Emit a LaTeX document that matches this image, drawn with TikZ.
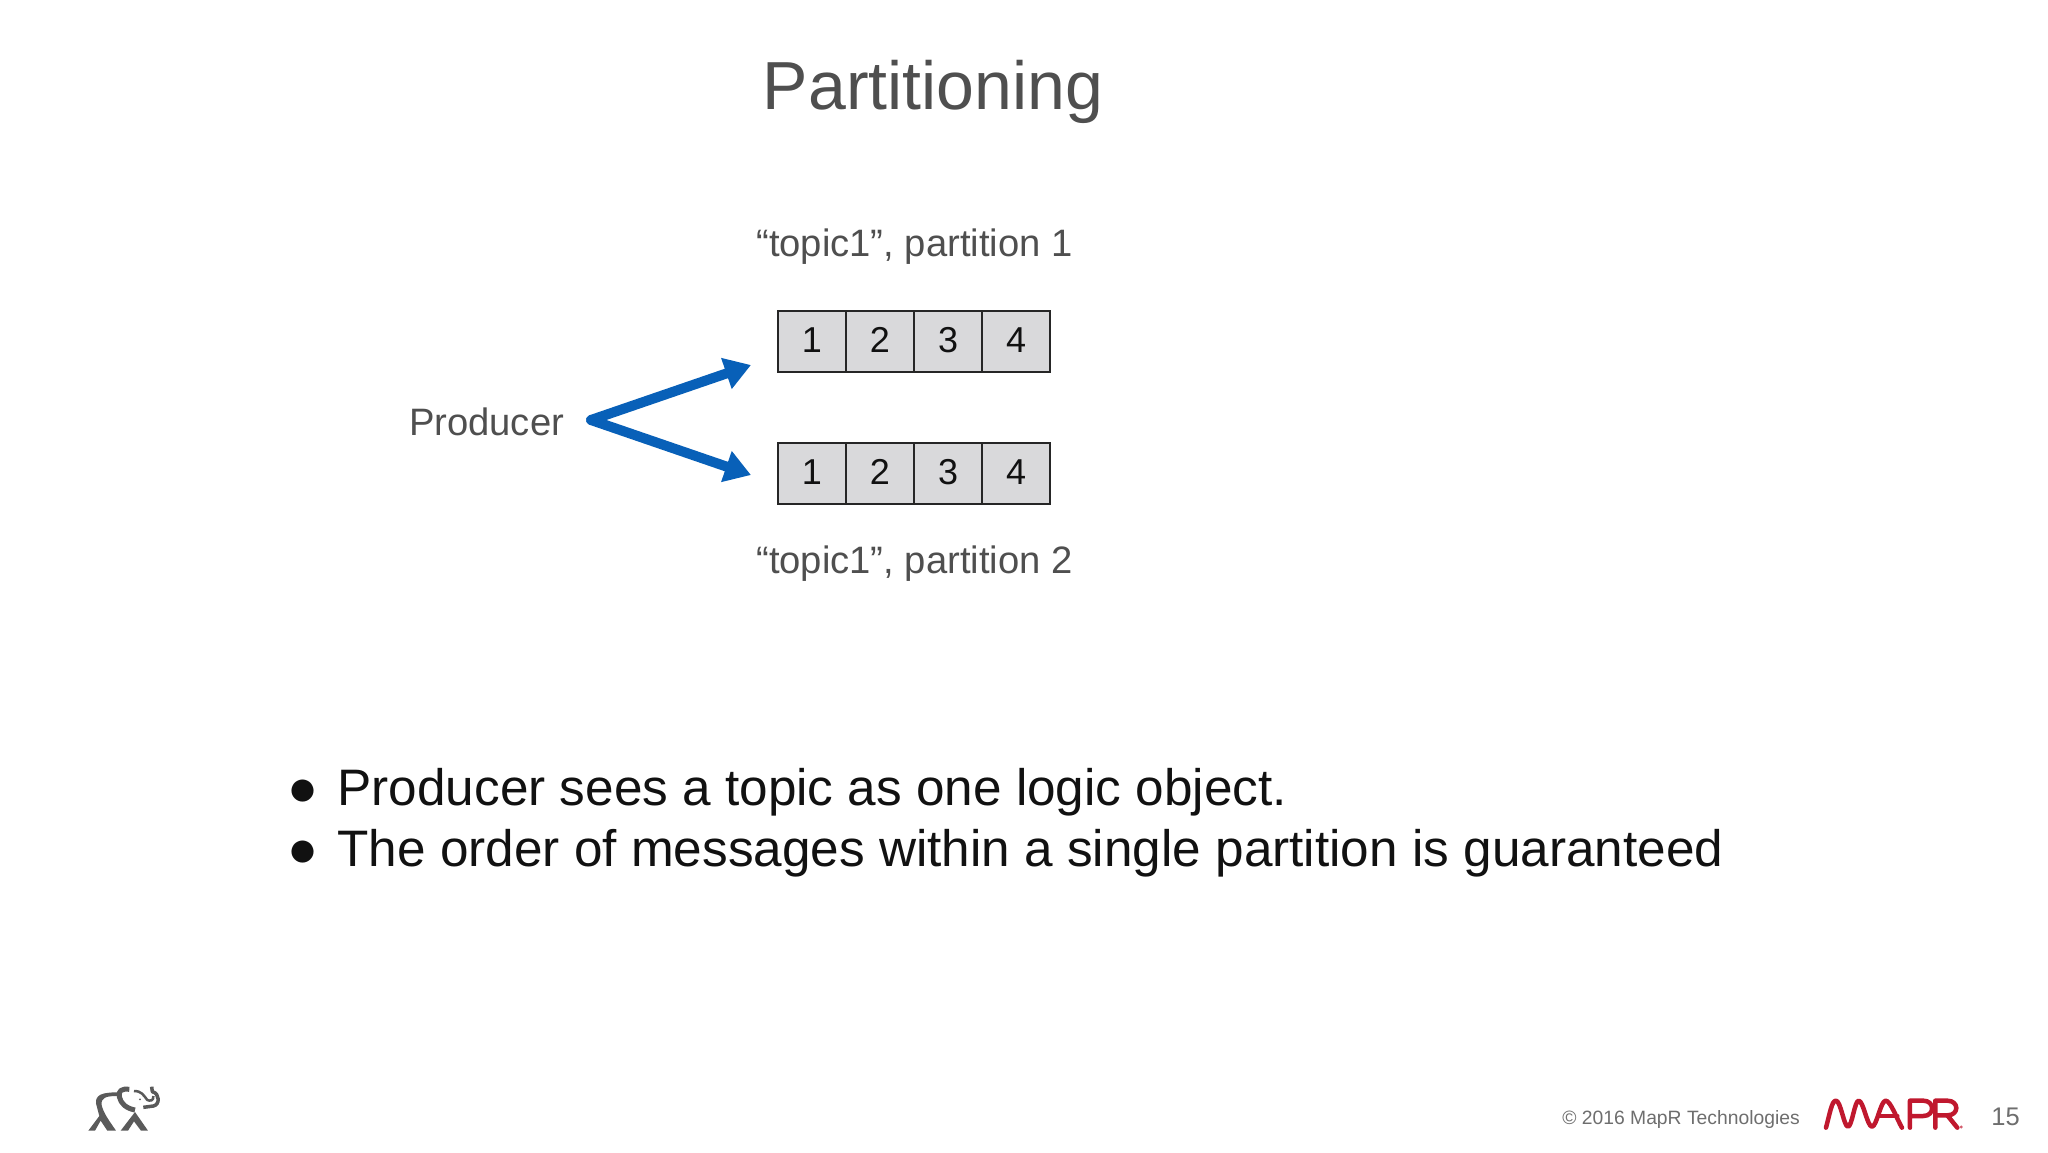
\documentclass[tikz,border=0pt]{standalone}
\usepackage{fontspec}
\setmainfont{Liberation Sans}
\usetikzlibrary{arrows.meta}
\definecolor{txtgray}{HTML}{4F4F4F}
\definecolor{bodytext}{HTML}{111111}
\definecolor{footgray}{HTML}{6E6E6E}
\definecolor{cellgray}{HTML}{D9D9DB}
\definecolor{arrowblue}{HTML}{0860B8}
\definecolor{maprred}{HTML}{C0182E}
\definecolor{elegray}{HTML}{5A5A5A}
\newcommand{\fsz}[1]{\fontsize{#1}{#1}\selectfont}
\tikzset{
  x=1pt,y=-1pt,
  every node/.style={inner sep=0pt,outer sep=0pt},
  titletext/.style={anchor=base,text=txtgray,font=\fsz{68}},
  labeltext/.style={anchor=base,text=txtgray,font=\fsz{38.2}},
  bullettext/.style={anchor=base west,text=bodytext,font=\fsz{51.3}},
  cell/.style={draw=black!85,line width=2pt,fill=cellgray,minimum width=68.2pt,minimum height=61.5pt,text=bodytext,font=\fsz{36},text depth=2.5pt,anchor=center},
  flow/.style={draw=arrowblue,line width=10pt,line cap=round,-{Triangle[length=26pt,width=31pt,fill=arrowblue]}},
  foot/.style={anchor=base,text=footgray},
  logoline/.style={draw=maprred,line width=4.5pt,line join=round,line cap=round},
  eleline/.style={draw=elegray,line cap=butt,line join=round},
}
\begin{document}
\begin{tikzpicture}
\useasboundingbox (0,0) rectangle (2048,1152);
\fill[white] (0,0) rectangle (2048,1152);
\node[titletext] (title) at (933,109) {Partitioning};
\node[labeltext] (t1) at (914.5,256) {“topic1”, partition 1};
\node[labeltext] (t2) at (914.5,573.5) {“topic1”, partition 2};
\node[labeltext] (prod) at (486.5,435) {Producer};
\foreach \i/\x in {1/812,2/880,3/948,4/1016}{
  \node[cell] (a\i) at (\x,341.5) {\i};
  \node[cell] (b\i) at (\x,473.5) {\i};
}
\coordinate (src) at (591,420);
\coordinate (enda) at (751,365);
\coordinate (endb) at (751,475);
\draw[flow] (src) -- (enda);
\draw[flow] (src) -- (endb);
\node[bullettext] (bu1) at (287,805) {●};
\node[bullettext] (bu2) at (287,866.5) {●};
\node[bullettext] (l1) at (337.5,805) {Producer sees a topic as one logic object.};
\node[bullettext] (l2) at (337.5,866.5) {The order of messages within a single partition is guaranteed};
\node[foot,font=\fsz{19.3}] (copy) at (1681,1124.5) {© 2016 MapR Technologies};
\node[foot,font=\fsz{25.5}] (page) at (2005.5,1125.5) {15};
% MapR logo, traced
\begin{scope}[shift={(1540,1080)},x=0.3333pt,y=-0.3333pt]
\draw[logoline] (858,143) .. controls (870,100) and (875,62) .. (888,62)
  .. controls (902,62) and (912,140) .. (924,140)
  .. controls (936,140) and (944,62) .. (956,62)
  .. controls (970,62) and (982,140) .. (996,140)
  .. controls (1010,140) and (1022,62) .. (1037,62)
  .. controls (1052,62) and (1072,120) .. (1086,143);
\draw[logoline] (1110,143) -- (1110,62) -- (1150,62) .. controls (1185,62) and (1185,108) .. (1150,108) -- (1112,108);
\draw[logoline] (1015,108) -- (1072,108);
\draw[logoline] (1186,143) -- (1186,62) -- (1222,62) .. controls (1258,62) and (1258,106) .. (1222,106) -- (1188,106);
\draw[logoline] (1222,106) -- (1252,143);
\fill[maprred!70] (1264,141) circle (5);
\end{scope}
% elephant, traced
\begin{scope}[shift={(60,1060)},x=0.3333pt,y=-0.3333pt]
\fill[elegray] (85,212) -- (118,168) -- (108,130) .. controls (106,105) and (125,97) .. (172,97) -- (172,108) .. controls (140,108) and (122,112) .. (125,135) .. controls (130,160) and (150,185) .. (168,212) -- (142,212) -- (122,182) -- (105,212) -- cycle;
\fill[elegray] (182,212) -- (225,156) -- (264,212) -- (243,212) -- (222,184) -- (204,212) -- cycle;
\draw[eleline,line width=5pt] (208,88) .. controls (185,85) and (175,92) .. (178,110) .. controls (182,130) and (198,145) .. (225,150);
\draw[eleline,line width=2.5pt] (222,93) .. controls (245,93) and (250,105) .. (262,120) .. controls (270,124) and (282,122) .. (280,108);
\draw[eleline,line width=3.5pt] (275,80) -- (277,95) .. controls (300,100) and (300,135) .. (280,138) -- (250,142);
\fill[elegray] (240,118) circle (3);
\end{scope}
\end{tikzpicture}
\end{document}
